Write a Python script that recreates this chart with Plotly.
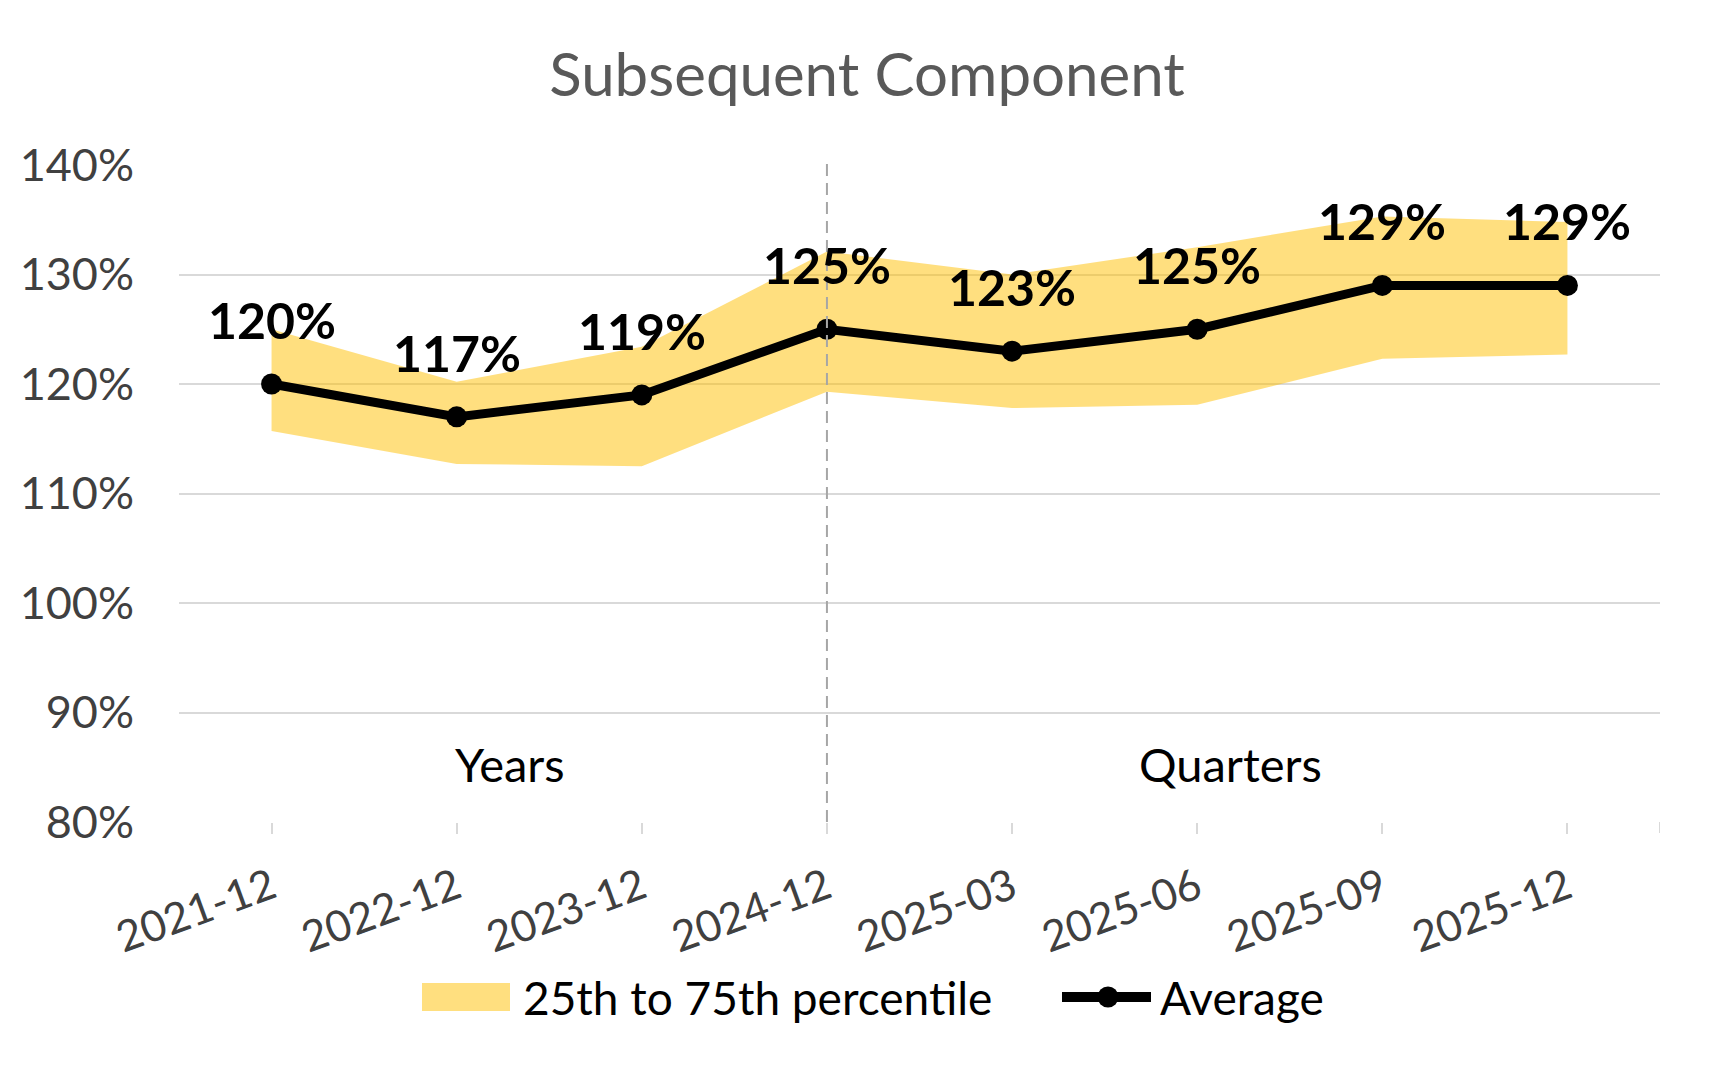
import plotly.graph_objects as go

categories = ["2021-12", "2022-12", "2023-12", "2024-12", "2025-03", "2025-06", "2025-09", "2025-12"]
average = [1.20, 1.17, 1.19, 1.25, 1.23, 1.25, 1.29, 1.29]
p25 = [1.157, 1.127, 1.125, 1.193, 1.178, 1.181, 1.223, 1.227]
p75 = [1.250, 1.202, 1.234, 1.321, 1.300, 1.325, 1.353, 1.348]
y_ticks = [0.8, 0.9, 1.0, 1.1, 1.2, 1.3, 1.4]
y_tick_labels = ["80%", "90%", "100%", "110%", "120%", "130%", "140%"]
section_labels = ["Years", "Quarters"]
section_x = [1.29, 5.18]
section_y = 0.853
divider_category = "2024-12"

FONT = "Lato"
BAND = "rgba(255,192,0,0.5)"

# page has an 8px body margin; figure sized to fit inside the window without scrollbars
OFF = 8
W, H = 1718, 1053
PL, PR, PT, PB = 179, 1660, 165, 822  # plot area in window pixels
ML, MR, MT, MB = PL - OFF, W + OFF - PR, PT - OFF, H + OFF - PB
PW = W - ML - MR
PH = H - MT - MB


def px_x(p):
    """window pixel x -> paper fraction"""
    return (p - PL) / PW


def px_y(p):
    """window pixel y -> paper fraction"""
    return (PB - p) / PH


fig = go.Figure()
fig.add_trace(go.Scatter(x=categories, y=p25, mode="lines", line=dict(width=0, color=BAND),
                         showlegend=False, hoverinfo="skip"))
fig.add_trace(go.Scatter(x=categories, y=p75, mode="lines", line=dict(width=0, color=BAND),
                         fill="tonexty", fillcolor=BAND, name="25th to 75th percentile",
                         showlegend=False))
fig.add_trace(go.Scatter(x=categories, y=average, mode="lines+markers", name="Average",
                         line=dict(color="black", width=9),
                         marker=dict(color="black", size=21), showlegend=False))

annotations = []
for c, v in zip(categories, average):
    annotations.append(dict(x=c, y=v, xref="x", yref="y", text=f"{v*100:.0f}%", showarrow=False,
                            yshift=64, font=dict(family=FONT, size=50, color="black", weight="bold")))
for t, sx in zip(section_labels, section_x):
    annotations.append(dict(x=sx, y=section_y, xref="x", yref="y", text=t, showarrow=False,
                            font=dict(family=FONT, size=47, color="black")))

# custom legend (real text, positioned in paper coordinates)
legend_y = px_y(997)
annotations.append(dict(x=px_x(521), y=legend_y, xref="paper", yref="paper",
                        text="25th to 75th percentile", showarrow=False,
                        xanchor="left", yanchor="middle",
                        font=dict(family=FONT, size=46, color="black")))
annotations.append(dict(x=px_x(1158), y=legend_y, xref="paper", yref="paper",
                        text="Average", showarrow=False, xanchor="left", yanchor="middle",
                        font=dict(family=FONT, size=46, color="black")))

shapes = [
    dict(type="line", xref="x", yref="paper", x0=divider_category, x1=divider_category,
         y0=0, y1=px_y(162), line=dict(color="#a6a6a6", width=2, dash="12px,7px")),
    dict(type="line", xref="x", yref="paper", x0=7.5, x1=7.5, y0=0, y1=-11 / PH,
         line=dict(color="#d9d9d9", width=2)),
    dict(type="rect", xref="paper", yref="paper", x0=px_x(422), x1=px_x(510),
         y0=legend_y - 14 / PH, y1=legend_y + 14 / PH, fillcolor=BAND, line=dict(width=0)),
    dict(type="line", xref="paper", yref="paper", x0=px_x(1062), x1=px_x(1151),
         y0=legend_y, y1=legend_y, line=dict(color="black", width=10)),
    dict(type="circle", xref="paper", yref="paper", x0=px_x(1097.5), x1=px_x(1118.5),
         y0=legend_y - 10.5 / PH, y1=legend_y + 10.5 / PH, fillcolor="black", line=dict(width=0)),
]

fig.update_layout(
    width=W, height=H,
    margin=dict(l=ML, r=MR, t=MT, b=MB),
    paper_bgcolor="white", plot_bgcolor="white",
    title=dict(text="Subsequent Component", x=(867 - OFF) / W, xref="container", xanchor="center",
               y=1 - (75 - OFF) / H, yref="container", yanchor="middle",
               font=dict(family=FONT, size=60, color="#595959")),
    xaxis=dict(type="category", categoryorder="array", categoryarray=categories,
               range=[-0.5, 7.5], showgrid=False, showline=False, zeroline=False,
               ticks="outside", ticklen=11, tickwidth=2, tickcolor="#d9d9d9",
               tickangle=-20, tickfont=dict(family=FONT, size=43, color="#404040"),
               ticklabelstandoff=12),
    yaxis=dict(range=[0.8, 1.4], tickvals=y_ticks, ticktext=y_tick_labels,
               showgrid=True, gridcolor="#d9d9d9", gridwidth=2, zeroline=False, showline=False,
               tickfont=dict(family=FONT, size=45, color="#404040"), ticklabelstandoff=44),
    annotations=annotations,
    shapes=shapes,
    showlegend=False,
)

fig.write_html("out.html")
